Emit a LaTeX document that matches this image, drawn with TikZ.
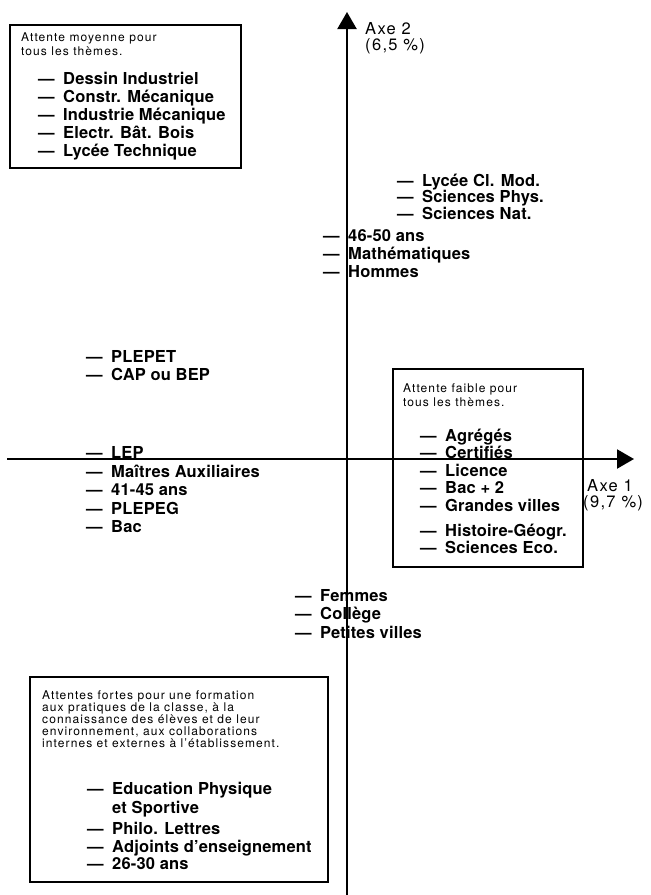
\documentclass[tikz,border=0pt]{standalone}
\usepackage{fontspec}
\setmainfont{TeX Gyre Heros}
\newfontfamily\notefont[LetterSpace=9]{TeX Gyre Heros}
\newfontfamily\itemfont[LetterSpace=1]{TeX Gyre Heros}
\newfontfamily\axisfont[LetterSpace=8]{TeX Gyre Heros}
\usetikzlibrary{arrows.meta}

% dash-led entry of a list
\newcommand{\ed}[1]{\makebox[25pt][l]{—}#1}

\tikzset{
  note/.style={anchor=base west, inner sep=0pt, font=\notefont\fontsize{12}{12}\selectfont},
  entry/.style={anchor=base west, inner sep=0pt, font=\itemfont\bfseries\fontsize{16.5}{18}\selectfont},
  axislabel/.style={anchor=base west, inner sep=0pt, font=\axisfont\fontsize{16.5}{18}\selectfont},
  frame/.style={draw, line width=1.5pt, anchor=north west, inner sep=0pt},
  axisline/.style={line width=2.2pt, -{Triangle[length=17pt,width=19pt]}},
}

\begin{document}
\begin{tikzpicture}[x=1pt,y=-1pt]
\useasboundingbox (0,0) rectangle (651,895);

% axes
\coordinate (xl) at (7,459);
\coordinate (xr) at (634,459);
\coordinate (yb) at (347,895);
\coordinate (yt) at (347,12);
\draw[axisline] (xl) -- (xr);
\draw[axisline] (yb) -- (yt);
\node[axislabel] (ax2a) at (365,34) {Axe 2};
\node[axislabel] (ax2b) at (365,50) {(6,5 \%)};
\node[axislabel] (ax1a) at (587,491) {Axe 1};
\node[axislabel] (ax1b) at (583,507) {(9,7 \%)};

% box: average expectation
\node[frame, minimum width=231pt, minimum height=143pt] (boxmid) at (9,24) {};
\node[note] (mid1) at (21,41) {Attente moyenne pour};
\node[note] (mid2) at (21,55) {tous les thèmes.};
\foreach \t [count=\i] in {Dessin Industriel, Constr. Mécanique, Industrie Mécanique, Electr. Bât. Bois, Lycée Technique}
  \node[entry] (midi\i) at (38,{84+18*(\i-1)}) {\ed{\t}};

% upper right group
\node[entry] (ur1) at (397,186) {\ed{Lycée Cl. Mod.}};
\node[entry] (ur2) at (397,202.5) {\ed{Sciences Phys.}};
\node[entry] (ur3) at (397,219) {\ed{Sciences Nat.}};

% group on the vertical axis
\node[entry] (va1) at (323,241) {\ed{46-50 ans}};
\node[entry] (va2) at (323,259) {\ed{Mathématiques}};
\node[entry] (va3) at (323,277) {\ed{Hommes}};

% left groups
\node[entry] (lt1) at (86,362) {\ed{PLEPET}};
\node[entry] (lt2) at (86,380) {\ed{CAP ou BEP}};
\node[entry] (lb1) at (86,458) {\ed{LEP}};
\node[entry] (lb2) at (86,477) {\ed{Maîtres Auxiliaires}};
\node[entry] (lb3) at (86,495) {\ed{41-45 ans}};
\node[entry] (lb4) at (86,514) {\ed{PLEPEG}};
\node[entry] (lb5) at (86,532) {\ed{Bac}};

% box: low expectation
\node[frame, minimum width=190pt, minimum height=198pt] (boxlow) at (392,368) {};
\node[note] (low1) at (403,392) {Attente faible pour};
\node[note] (low2) at (403,406) {tous les thèmes.};
\node[entry] (lowi1) at (420,441) {\ed{Agrégés}};
\node[entry] (lowi2) at (420,458) {\ed{Certifiés}};
\node[entry] (lowi3) at (420,476) {\ed{Licence}};
\node[entry] (lowi4) at (420,493) {\ed{Bac + 2}};
\node[entry] (lowi5) at (420,511) {\ed{Grandes villes}};
\node[entry] (lowi6) at (420,536) {\ed{Histoire-Géogr.}};
\node[entry] (lowi7) at (420,553) {\ed{Sciences Eco.}};

% lower group on the vertical axis
\node[entry] (lo1) at (295,601) {\ed{Femmes}};
\node[entry] (lo2) at (295,619) {\ed{Collège}};
\node[entry] (lo3) at (295,638) {\ed{Petites villes}};

% box: strong expectation
\node[frame, fill=white, minimum width=298pt, minimum height=205pt] (boxhigh) at (29,676) {};
\node[note] (hi1) at (42,699) {Attentes fortes pour une formation};
\node[note] (hi2) at (42,711) {aux pratiques de la classe, à la};
\node[note] (hi3) at (42,723) {connaissance des élèves et de leur};
\node[note] (hi4) at (42,735) {environnement, aux collaborations};
\node[note] (hi5) at (42,747) {internes et externes à l’établissement.};
\node[entry] (hii1) at (87,794) {\ed{Education Physique}};
\node[entry] (hii1b) at (112,813) {et Sportive};
\node[entry] (hii2) at (87,834) {\ed{Philo. Lettres}};
\node[entry] (hii3) at (87,852) {\ed{Adjoints d’enseignement}};
\node[entry] (hii4) at (87,869) {\ed{26-30 ans}};
\end{tikzpicture}
\end{document}
